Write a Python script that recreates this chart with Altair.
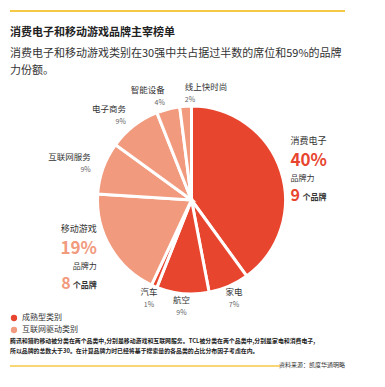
import altair as alt
import pandas as pd

# ---------------- data ----------------
categories = ["消费电子", "家电", "航空", "汽车", "移动游戏", "互联网服务", "电子商务", "智能设备", "线上快时尚"]
shares = [40, 7, 9, 1, 19, 9, 9, 4, 2]
groups = ["成熟型类别", "成熟型类别", "成熟型类别", "成熟型类别",
          "互联网驱动类别", "互联网驱动类别", "互联网驱动类别", "互联网驱动类别", "互联网驱动类别"]
group_names = ["成熟型类别", "互联网驱动类别"]
highlight_categories = ["消费电子", "移动游戏"]
highlight_brand_counts = [9, 8]

title_text = "消费电子和移动游戏品牌主宰榜单"
subtitle_lines = ["消费电子和移动游戏类别在30强中共占据过半数的席位和59%的品牌", "力份额。"]
footnote_lines = [
    "腾讯和猎豹移动被分类在两个品类中,分别是移动游戏和互联网服务。TCL被分类在两个品类中,分别是家电和消费电子,",
    "所以品牌的总数大于30。在计算品牌力时已经将基于搜索量的各品类的占比分布因子考虑在内。",
]
source_text = "资料来源：凯度华通明略"

# ---------------- styling ----------------
FONT = "Noto Sans CJK SC"
RED = "#E8452F"
SALMON = "#F19A7E"
group_colors = [RED, SALMON]
YELLOW = "#F6C945"
CX, CY, R = 183.5, 192, 94
LABEL_R = 107

df = pd.DataFrame({
    "category": categories,
    "share": shares,
    "group": groups,
    "order": list(range(len(categories))),
})
df["pct"] = df["share"].astype(str) + "%"
df["brands"] = df["category"].map(dict(zip(highlight_categories, highlight_brand_counts)))

theta_scale = alt.Scale(domain=[0, 100])

pie = alt.Chart(df).mark_arc(outerRadius=R, stroke="white", strokeWidth=3).encode(
    theta=alt.Theta("share:Q", stack=True, scale=theta_scale),
    order=alt.Order("order:Q"),
    color=alt.Color(
        "group:N",
        scale=alt.Scale(domain=group_names, range=group_colors),
        legend=alt.Legend(
            orient="none", legendX=2, legendY=306, title=None,
            symbolType="circle", symbolSize=40, symbolStrokeWidth=0,
            labelFont=FONT, labelFontSize=8, labelColor="#333333",
            rowPadding=4, labelOffset=4, padding=0,
        ),
    ),
    x=alt.value(CX),
    y=alt.value(CY),
)

base = alt.Chart(df).transform_window(
    cum="sum(share)", sort=[alt.SortField("order")], frame=[None, 0]
).transform_calculate(mid="datum.cum - datum.share / 2")

polar = dict(
    theta=alt.Theta("mid:Q", stack=False, scale=theta_scale),
    x=alt.value(CX),
    y=alt.value(CY),
)

align_groups = {
    "right": ["互联网服务", "电子商务", "智能设备"],
    "left": ["线上快时尚"],
    "center": ["汽车", "航空", "家电"],
}

layers = [pie]
for align, cats in align_groups.items():
    sub = base.transform_filter(alt.FieldOneOfPredicate(field="category", oneOf=cats))
    layers.append(sub.mark_text(radius=LABEL_R, align=align, baseline="middle", dy=-6.5,
                                font=FONT, fontSize=8.5, color="#333333").encode(
        text="category:N", **polar))
    layers.append(sub.mark_text(radius=LABEL_R, align=align, baseline="middle", dy=6.5,
                                font=FONT, fontSize=7, color="#666666").encode(
        text="pct:N", **polar))

# highlighted big labels
for cat in highlight_categories:
    grp = groups[categories.index(cat)]
    col = group_colors[group_names.index(grp)]
    sub = base.transform_filter(alt.FieldEqualPredicate(field="category", equal=cat))
    if cat == highlight_categories[0]:
        al, rr, dx_count, dx_word = "left", 104, 0, 12
    else:
        al, rr, dx_count, dx_word = "right", 110, -26, 0
    layers.append(sub.mark_text(radius=rr, align=al, baseline="middle", dy=-27,
                                font=FONT, fontSize=9, color="#333333").encode(
        text="category:N", **polar))
    layers.append(sub.mark_text(radius=rr, align=al, baseline="middle", dy=-7,
                                font=FONT, fontSize=17, fontWeight="bold", color=col).encode(
        text="pct:N", **polar))
    layers.append(sub.mark_text(radius=rr, align=al, baseline="middle", dy=11,
                                font=FONT, fontSize=8, color="#333333").encode(
        text=alt.value("品牌力"), **polar))
    layers.append(sub.mark_text(radius=rr, align=al, baseline="middle", dy=28, dx=dx_count,
                                font=FONT, fontSize=16, fontWeight="bold", color=col).encode(
        text="brands:Q", **polar))
    layers.append(sub.mark_text(radius=rr, align=al, baseline="middle", dy=30, dx=dx_word,
                                font=FONT, fontSize=8, fontWeight="bold", color="#333333").encode(
        text=alt.value("个品牌"), **polar))

one = pd.DataFrame({"k": [0]})

# decorative yellow rules
layers.append(alt.Chart(one).mark_rule(color=YELLOW, strokeWidth=2).encode(
    x=alt.value(2), x2=alt.value(337), y=alt.value(3)))
layers.append(alt.Chart(one).mark_rule(color=YELLOW, strokeWidth=1.5).encode(
    x=alt.value(2), x2=alt.value(272), y=alt.value(358)))

# title and subtitle
layers.append(alt.Chart(one).mark_text(align="left", baseline="middle", font=FONT, fontSize=11,
                                       fontWeight="bold", color="#222222").encode(
    x=alt.value(2), y=alt.value(25), text=alt.value(title_text)))
layers.append(alt.Chart(one).mark_text(align="left", baseline="top", font=FONT, fontSize=11,
                                       color="#333333", lineBreak="\n", lineHeight=17).encode(
    x=alt.value(2), y=alt.value(40), text=alt.value("\n".join(subtitle_lines))))

# footnote and source
layers.append(alt.Chart(one).mark_text(align="left", baseline="top", font=FONT, fontSize=5.9,
                                       fontWeight="bold", color="#222222", lineBreak="\n", lineHeight=9.5).encode(
    x=alt.value(2), y=alt.value(330), text=alt.value("\n".join(footnote_lines))))
layers.append(alt.Chart(one).mark_text(align="right", baseline="middle", font=FONT, fontSize=6,
                                       color="#333333").encode(
    x=alt.value(337), y=alt.value(357), text=alt.value(source_text)))

chart = alt.layer(*layers).properties(
    width=369, height=371,
    autosize=alt.AutoSizeParams(type="none"),
    padding=0,
    background="white",
).configure_view(stroke=None)

chart.save("out.html", embed_options={"renderer": "svg", "actions": False})
